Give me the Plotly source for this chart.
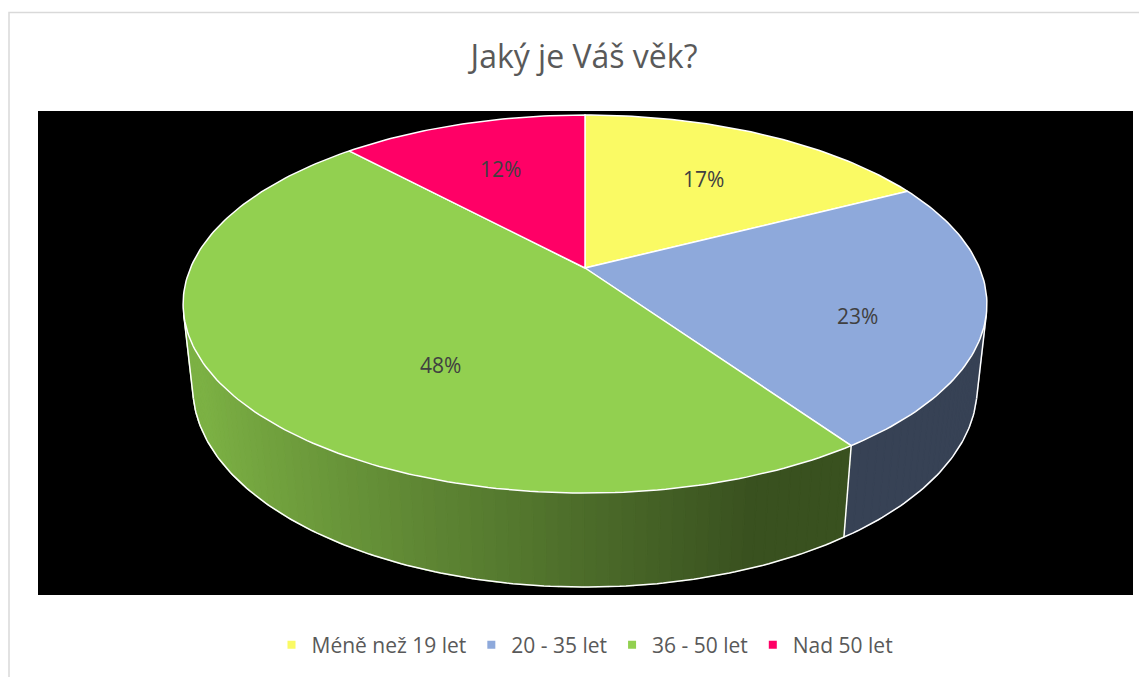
import numpy as np
import plotly.graph_objects as go

# ---------------- data ----------------
categories = ["Méně než 19 let", "20 - 35 let", "36 - 50 let", "Nad 50 let"]
counts = [19, 25, 52, 13]          # estimated respondents -> 17 %, 23 %, 48 %, 12 %
colors = ["#FAFA64", "#8EA9DB", "#92D050", "#FF0066"]
title_text = "Jaký je Váš věk?"

# ---------------- 3D pie projection (style) ----------------
CX, CY = 585.0, 268.0      # projected centre of top face (axis units = reference pixels)
F = 1837.0                 # focal length
DIST = 4.656               # camera distance (in pie radii)
PHI = np.radians(27.5)     # camera elevation
H = 0.239                  # pie thickness (in pie radii)
PAGE_OFF = 8               # default body margin of the html page


def proj(theta, r, y):
    theta = np.asarray(theta, dtype=float)
    u = r * np.sin(theta)
    v = r * np.cos(theta)
    depth = DIST - y * np.sin(PHI) + v * np.cos(PHI)
    sy = y * np.cos(PHI) + v * np.sin(PHI)
    return CX + F * u / depth, CY - F * sy / depth


def shade(hexcol, fac):
    h = hexcol.lstrip("#")
    rgb = [int(h[i:i + 2], 16) for i in (0, 2, 4)]
    return "rgb(%d,%d,%d)" % tuple(int(round(c * fac)) for c in rgb)


vals = np.array(counts, dtype=float)
fracs = vals / vals.sum()
bounds = np.concatenate([[0.0], np.cumsum(fracs)]) * 2 * np.pi

fig = go.Figure()

# ---- visible outer side (front half of cylinder) ----
t_sil = np.arccos(-1.0 / (DIST * np.cos(PHI)))
vis_a, vis_b = t_sil, 2 * np.pi - t_sil
for i in range(len(vals)):
    a, b = max(bounds[i], vis_a), min(bounds[i + 1], vis_b)
    if b <= a:
        continue
    n = max(2, int(np.degrees(b - a) / 1.5) + 1)
    ts = np.linspace(a, b, n)
    for t0, t1 in zip(ts[:-1], ts[1:]):
        tm = 0.5 * (t0 + t1)
        fac = float(np.clip(0.52 - 0.37 * np.sin(tm), 0.39, 0.85))
        col = shade(colors[i], fac)
        xt, yt = proj([t0, t1], 1.0, 0.0)
        xb, yb = proj([t1, t0], 1.0, -H)
        fig.add_trace(go.Scatter(
            x=list(xt) + list(xb) + [xt[0]], y=list(yt) + list(yb) + [yt[0]],
            mode="lines", fill="toself", fillcolor=col,
            line=dict(color=col, width=1.3), hoverinfo="skip", showlegend=False))

# side outlines
ox, oy = [], []
tb = np.linspace(vis_a, vis_b, 200)
bx, by = proj(tb, 1.0, -H)
ox += list(bx) + [None]
oy += list(by) + [None]
edge_angles = [vis_a, vis_b] + [t for t in bounds[1:-1] if vis_a < t < vis_b]
for t in edge_angles:
    x0, y0 = proj([t], 1.0, 0.0)
    x1, y1 = proj([t], 1.0, -H)
    ox += [x0[0], x1[0], None]
    oy += [y0[0], y1[0], None]
fig.add_trace(go.Scatter(x=ox, y=oy, mode="lines", line=dict(color="white", width=1.5),
                         hoverinfo="skip", showlegend=False))

# ---- top faces ----
annotations = []
for i in range(len(vals)):
    a, b = bounds[i], bounds[i + 1]
    n = max(3, int(np.degrees(b - a)) + 1)
    ts = np.linspace(a, b, n)
    ax, ay = proj(ts, 1.0, 0.0)
    xs = [CX] + list(ax) + [CX]
    ys = [CY] + list(ay) + [CY]
    fig.add_trace(go.Scatter(x=xs, y=ys, mode="lines", fill="toself", fillcolor=colors[i],
                             line=dict(color="white", width=1.5), hoverinfo="skip",
                             showlegend=False))
    # label at sector centroid, pushed out / down for slices facing the viewer
    half = (b - a) / 2
    mid = (a + b) / 2
    front = max(0.0, -np.cos(mid))
    rc = 2 * np.sin(half) / (3 * half) + 0.35 * front * np.sin(mid) ** 2 * (half < 1.0)
    lx, ly = proj([mid], rc, 0.0)
    ly = ly[0] + front * 70
    annotations.append(dict(x=lx[0], y=ly, xref="x", yref="y", showarrow=False,
                            text="%d%%" % int(round(fracs[i] * 100)),
                            font=dict(family="Open Sans", size=21, color="#404040")))

# ---- legend entries ----
for cat, col in zip(categories, colors):
    fig.add_trace(go.Scatter(x=[None], y=[None], mode="markers", name=cat,
                             marker=dict(symbol="square", size=8, color=col)))

W, Hh = 1147 - PAGE_OFF, 677 - PAGE_OFF
fig.update_layout(
    width=W, height=Hh,
    margin=dict(l=38 - PAGE_OFF, r=W - (1133 - PAGE_OFF), t=111 - PAGE_OFF,
                b=Hh - (595 - PAGE_OFF)),
    paper_bgcolor="white", plot_bgcolor="black",
    xaxis=dict(range=[38, 1133], visible=False, fixedrange=True),
    yaxis=dict(range=[595, 111], visible=False, fixedrange=True),
    title=dict(text=title_text, x=(584 - 38) / 1095, xref="paper", xanchor="center",
               y=1 - (57 - PAGE_OFF) / Hh, yref="container", yanchor="middle",
               font=dict(family="Open Sans", size=32, color="#595959")),
    legend=dict(orientation="h", x=(585 - 38) / 1095, xanchor="center",
                y=(595 - 645) / 484, yanchor="middle",
                font=dict(family="Open Sans", size=21, color="#595959"),
                bgcolor="rgba(0,0,0,0)", itemclick=False, itemdoubleclick=False),
    annotations=annotations,
    shapes=[dict(type="rect", xref="paper", yref="paper",
                 x0=(9 - 38) / 1095, x1=1.2, y0=-0.6, y1=(595 - 12.5) / 484,
                 line=dict(color="#D9D9D9", width=1.5), layer="below")],
    showlegend=True,
)

fig.write_html("out.html")
